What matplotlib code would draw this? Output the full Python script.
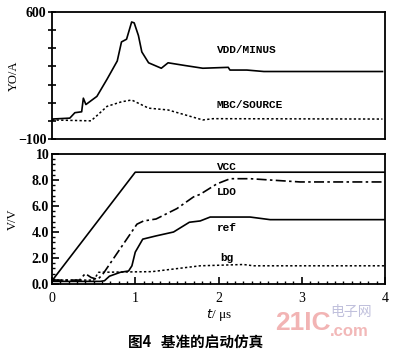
import matplotlib
matplotlib.use("Agg")
import matplotlib.pyplot as plt
from matplotlib.ticker import MultipleLocator, FixedLocator

# ---- data ----
vdd_t = [0.0, 0.21, 0.27, 0.35, 0.37, 0.40, 0.53, 0.65, 0.77, 0.82, 0.88, 0.94, 0.97, 1.02, 1.06, 1.14, 1.29, 1.37, 1.57, 1.78, 2.08, 2.10, 2.30, 2.5, 3.9]
vdd_v = [10, 15, 45, 50, 125, 90, 135, 230, 330, 435, 450, 545, 540, 470, 380, 320, 290, 320, 305, 290, 295, 280, 280, 272, 272]
mbc_t = [0.0, 0.46, 0.54, 0.65, 0.82, 0.94, 1.14, 1.37, 1.78, 1.9, 3.9]
mbc_v = [5, 0, 33, 80, 105, 115, 70, 60, 5, 12, 10]

vcc_t = [0.0, 1.0, 4.0]
vcc_v = [0.25, 8.6, 8.6]
ldo_t = [0.0, 0.33, 0.40, 0.47, 0.55, 0.61, 1.02, 1.10, 1.25, 1.50, 1.70, 1.78, 1.98, 2.14, 2.38, 2.98, 4.0]
ldo_v = [0.3, 0.3, 0.8, 0.5, 0.35, 0.75, 4.6, 4.85, 5.0, 5.8, 6.7, 6.9, 7.7, 8.1, 8.1, 7.85, 7.85]
ref_t = [0.0, 0.58, 0.63, 0.69, 0.82, 0.92, 0.96, 1.0, 1.09, 1.25, 1.46, 1.65, 1.78, 1.90, 2.38, 2.62, 4.0]
ref_v = [0.2, 0.2, 0.25, 0.6, 0.9, 1.0, 1.4, 2.45, 3.45, 3.7, 4.0, 4.75, 4.85, 5.15, 5.15, 4.95, 4.95]
bg_t = [0.0, 0.50, 0.56, 1.2, 1.78, 2.30, 2.42, 4.0]
bg_v = [0.3, 0.3, 0.9, 0.95, 1.4, 1.5, 1.4, 1.4]

top_yticks = [600, -100]
bot_yticks = [10, 8, 6, 4, 2, 0]
bot_ylabels = ["10", "8.0", "6.0", "4.0", "2.0", "0.0"]
xticks = [0, 1, 2, 3, 4]

plt.rcParams['font.family'] = ['Liberation Serif', 'Noto Sans CJK SC', 'DejaVu Sans']

fig = plt.figure(figsize=(4.0, 3.51), dpi=100)
W, H = 400, 351
def rect(x0, y0, x1, y1):
    return [x0 / W, 1 - y1 / H, (x1 - x0) / W, (y1 - y0) / H]

ax1 = fig.add_axes(rect(52, 12, 385, 139))
ax2 = fig.add_axes(rect(52, 154, 385, 284))

lw = 1.2
ax1.plot(vdd_t, vdd_v, color='black', lw=lw)
ax1.plot(mbc_t, mbc_v, color='black', lw=1.1, ls=(0, (1.5, 1.5)))
ax1.set_xlim(0, 3.93)
ax1.set_ylim(-100, 600)
ax1.yaxis.set_major_locator(FixedLocator(top_yticks))
ax1.yaxis.set_minor_locator(MultipleLocator(100))
ax1.set_xticks([])
ax1.tick_params(axis='y', direction='inout', length=6, width=1.2, labelsize=10, pad=1)
ax1.tick_params(axis='y', which='minor', direction='inout', length=6, width=1.2)
for lab in ax1.get_yticklabels():
    lab.set_fontweight('bold')
ax1.set_ylabel('YO/A', fontsize=9)
ax1.yaxis.set_label_coords(-0.096, 0.5)
ax1.text(2.3, 390, 'VDD/MINUS', family='Liberation Mono', fontsize=8, fontweight='bold', ha='center', va='center')
ax1.text(2.33, 90, 'MBC/SOURCE', family='Liberation Mono', fontsize=8, fontweight='bold', ha='center', va='center')

ax2.plot(vcc_t, vcc_v, color='black', lw=lw)
ax2.plot(ldo_t, ldo_v, color='black', lw=1.2, ls=(0, (6, 2, 1.5, 2)))
ax2.plot(ref_t, ref_v, color='black', lw=lw)
ax2.plot(bg_t, bg_v, color='black', lw=1.1, ls=(0, (1.5, 1.5)))
ax2.set_xlim(0, 4)
ax2.set_ylim(0, 10)
ax2.set_yticks(bot_yticks)
ax2.set_yticklabels(bot_ylabels)
ax2.yaxis.set_minor_locator(MultipleLocator(0.4))
ax2.set_xticks(xticks)
ax2.set_xticklabels([str(v) for v in xticks])
ax2.xaxis.set_minor_locator(MultipleLocator(0.1))
ax2.tick_params(axis='both', which='major', direction='in', length=5, width=1.2, labelsize=10, pad=2)
ax2.tick_params(axis='both', which='minor', direction='in', length=2.5, width=1.0)
for lab in ax2.get_yticklabels():
    lab.set_fontweight('bold')
ax2.tick_params(axis='x', pad=6)
ax2.set_ylabel('V/V', fontsize=9)
ax2.yaxis.set_label_coords(-0.1, 0.5)
ax2.set_xlabel(r'$\it{t}$/ μs', fontsize=9.5, labelpad=1)
for txt, yv in [('VCC', 9.0), ('LDO', 7.1), ('ref', 4.3), ('bg', 2.0)]:
    ax2.text(2.1, yv, txt, family='Liberation Mono', fontsize=8, fontweight='bold', ha='center', va='center')

for ax in (ax1, ax2):
    for s in ax.spines.values():
        s.set_linewidth(1.3)

fig.text(128 / W, 1 - 342 / H, '图4   基准的启动仿真', family=['Noto Sans CJK SC'], fontsize=10.5, fontweight='bold', ha='left', va='center')
# watermark
fig.text(275 / W, 1 - 323 / H, '21IC', family='Liberation Sans', fontsize=19, fontweight='bold', color='#f2b4b4', ha='left', va='center')
fig.text(330 / W, 1 - 312 / H, '电子网', family=['Noto Sans CJK SC'], fontsize=10, color='#c0c0dc', ha='left', va='center')
fig.text(330 / W, 1 - 331 / H, '.com', family='Liberation Sans', fontsize=12, fontweight='bold', color='#f2b8b8', ha='left', va='center')

fig.savefig('out.png', dpi=100)
